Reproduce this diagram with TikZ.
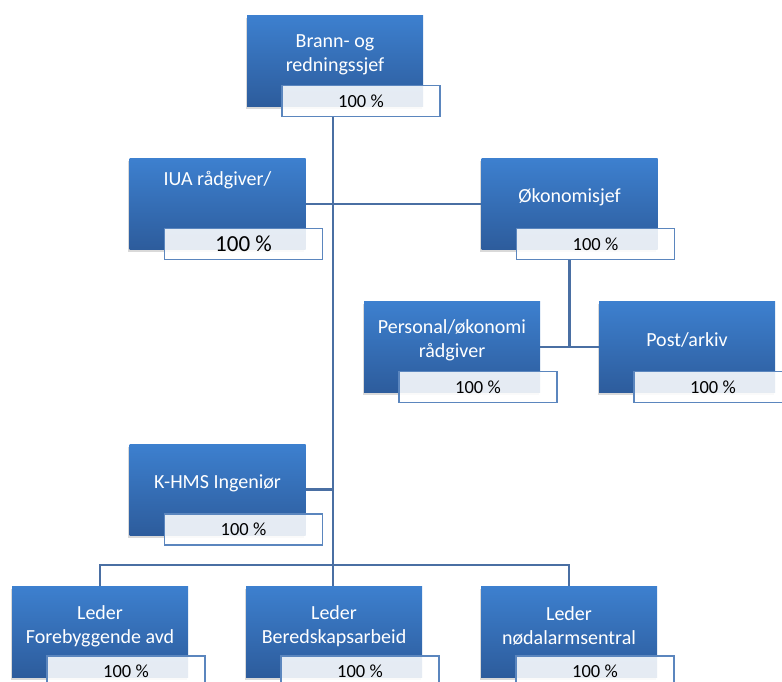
\documentclass[tikz,border=0pt]{standalone}
\usepackage{fontspec}
\setmainfont{Carlito}
\usetikzlibrary{shadows}
\definecolor{boxtop}{HTML}{3D80CF}
\definecolor{boxbot}{HTML}{2D5C9C}
\definecolor{linkblue}{HTML}{4A6FA3}
\definecolor{pctedge}{HTML}{5B86BE}
\begin{document}
\begin{tikzpicture}[x=1pt, y=-1pt,
    unit/.style={rectangle, minimum width=176pt, minimum height=91pt, inner sep=0pt,
      top color=boxtop, bottom color=boxbot,
      drop shadow={shadow xshift=-1.5pt, shadow yshift=-2.5pt, opacity=0.3}},
    title/.style={text=white, align=center, font=\fontsize{20}{24}\selectfont},
    pct/.style={rectangle, minimum width=158pt, minimum height=31pt, inner sep=0pt,
      fill=white, fill opacity=0.88, text opacity=1, draw=pctedge, line width=1.6pt,
      font=\fontsize{18.5}{20}\selectfont},
    link/.style={draw=linkblue, line width=2.4pt}] % org chart
  \useasboundingbox (0,0) rectangle (782,681);
  % boxes
  \node[unit] (bs) at (335,61) {};
  \node[title] (bst) at ([shift={(0,-6)}]bs.center) {Brann- og\\redningssjef};
  \node[pct] (bsp) at ([shift={(26,40)}]bs.center) {100 \%};
  \node[unit] (iua) at (217.5,204) {};
  \node[title] (iuat) at ([shift={(0,-24)}]iua.center) {IUA rådgiver/};
  \node[pct, font=\fontsize{23}{25}\selectfont] (iuap) at ([shift={(26,40)}]iua.center) {100 \%};
  \node[unit] (oko) at (569.5,204) {};
  \node[title] (okot) at ([shift={(0,-7)}]oko.center) {Økonomisjef};
  \node[pct] (okop) at ([shift={(26,40)}]oko.center) {100 \%};
  \node[unit] (pers) at (452,347) {};
  \node[title] (perst) at ([shift={(0,-7)}]pers.center) {Personal/økonomi\\rådgiver};
  \node[pct] (persp) at ([shift={(26,40)}]pers.center) {100 \%};
  \node[unit] (post) at (687,347) {};
  \node[title] (postt) at ([shift={(0,-7)}]post.center) {Post/arkiv};
  \node[pct] (postp) at ([shift={(26,40)}]post.center) {100 \%};
  \node[unit] (khms) at (217.5,489.5) {};
  \node[title] (khmst) at ([shift={(0,-6)}]khms.center) {K-HMS Ingeniør};
  \node[pct] (khmsp) at ([shift={(26,40)}]khms.center) {100 \%};
  \node[unit] (lfor) at (100,631.5) {};
  \node[title] (lfort) at ([shift={(0,-5)}]lfor.center) {Leder\\Forebyggende avd};
  \node[pct] (lforp) at ([shift={(26,40)}]lfor.center) {100 \%};
  \node[unit] (lber) at (334,631.5) {};
  \node[title] (lbert) at ([shift={(0,-5)}]lber.center) {Leder\\Beredskapsarbeid};
  \node[pct] (lberp) at ([shift={(26,40)}]lber.center) {100 \%};
  \node[unit] (lnod) at (569,631.5) {};
  \node[title] (lnodt) at ([shift={(0,-6)}]lnod.center) {Leder\\nødalarmsentral};
  \node[pct] (lnodp) at ([shift={(26,40)}]lnod.center) {100 \%};
  % lines
  \coordinate (spine) at (333,565);
  \draw[link] (bsp.south -| spine) -- (spine);
  \draw[link] (iua.east) -- (oko.west);
  \draw[link] (okop.south -| oko.south) -- (pers.east -| oko.south);
  \draw[link] (pers.east) -- (post.west);
  \draw[link] (khms.east) -- (khms.east -| spine);
  \draw[link] (lfor.north) -- (lfor.north |- spine) -- (lnod.north |- spine) -- (lnod.north);
  \draw[link] (spine) -- (lber.north -| spine);
\end{tikzpicture}
\end{document}
